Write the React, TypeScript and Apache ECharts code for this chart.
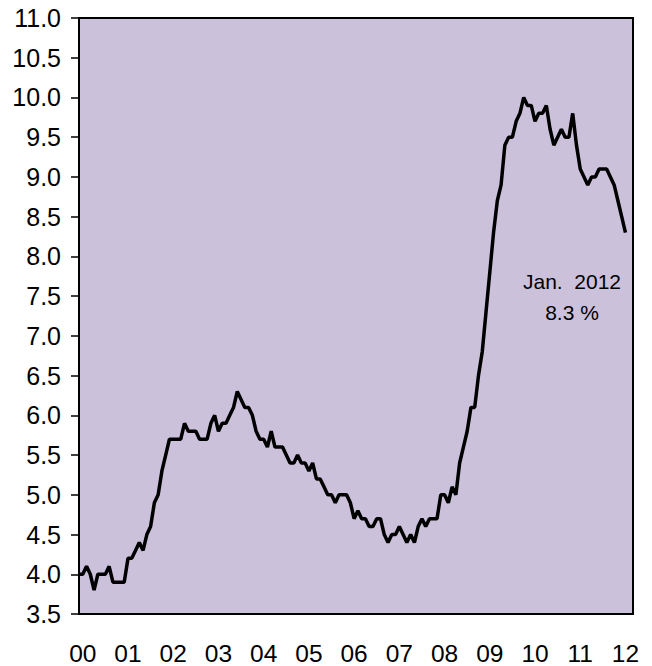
import React, { useEffect, useRef } from "react";
import * as echarts from "echarts";

// Monthly unemployment rate (%), Dec 1999 .. Jan 2012
const dec1999 = [4.0];
const y2000 = [4.0, 4.1, 4.0, 3.8, 4.0, 4.0, 4.0, 4.1, 3.9, 3.9, 3.9, 3.9];
const y2001 = [4.2, 4.2, 4.3, 4.4, 4.3, 4.5, 4.6, 4.9, 5.0, 5.3, 5.5, 5.7];
const y2002 = [5.7, 5.7, 5.7, 5.9, 5.8, 5.8, 5.8, 5.7, 5.7, 5.7, 5.9, 6.0];
const y2003 = [5.8, 5.9, 5.9, 6.0, 6.1, 6.3, 6.2, 6.1, 6.1, 6.0, 5.8, 5.7];
const y2004 = [5.7, 5.6, 5.8, 5.6, 5.6, 5.6, 5.5, 5.4, 5.4, 5.5, 5.4, 5.4];
const y2005 = [5.3, 5.4, 5.2, 5.2, 5.1, 5.0, 5.0, 4.9, 5.0, 5.0, 5.0, 4.9];
const y2006 = [4.7, 4.8, 4.7, 4.7, 4.6, 4.6, 4.7, 4.7, 4.5, 4.4, 4.5, 4.5];
const y2007 = [4.6, 4.5, 4.4, 4.5, 4.4, 4.6, 4.7, 4.6, 4.7, 4.7, 4.7, 5.0];
const y2008 = [5.0, 4.9, 5.1, 5.0, 5.4, 5.6, 5.8, 6.1, 6.1, 6.5, 6.8, 7.3];
const y2009 = [7.8, 8.3, 8.7, 8.9, 9.4, 9.5, 9.5, 9.7, 9.8, 10.0, 9.9, 9.9];
const y2010 = [9.7, 9.8, 9.8, 9.9, 9.6, 9.4, 9.5, 9.6, 9.5, 9.5, 9.8, 9.4];
const y2011 = [9.1, 9.0, 8.9, 9.0, 9.0, 9.1, 9.1, 9.1, 9.0, 8.9, 8.7, 8.5];
const y2012 = [8.3];

const rates = [
  ...dec1999, ...y2000, ...y2001, ...y2002, ...y2003, ...y2004, ...y2005,
  ...y2006, ...y2007, ...y2008, ...y2009, ...y2010, ...y2011, ...y2012,
];

const annotationLines = ["Jan.\u00a0\u00a02012", "8.3 %"];

const yMin = 3.5;
const yMax = 11.0;
const yStep = 0.5;

// month categories starting Dec 1999, with one extra trailing month
const startYear = 1999;
const startMonth = 11; // December (0-based)
const categoryCount = rates.length + 2;
const categories: string[] = [];
for (let i = 0; i < categoryCount; i++) {
  const t = startMonth + i;
  const yr = startYear + Math.floor(t / 12);
  const mo = t % 12;
  categories.push(`${yr}-${String(mo + 1).padStart(2, "0")}`);
}

const FONT = "'Liberation Sans', Arial, Helvetica, sans-serif";

export default function App() {
  const ref = useRef<HTMLDivElement>(null);
  useEffect(() => {
    if (!ref.current) return;
    const chart = echarts.init(ref.current, null, { renderer: "svg" });
    chart.setOption({
      animation: false,
      backgroundColor: "#ffffff",
      textStyle: { fontFamily: FONT },
      grid: {
        left: 79,
        right: 19,
        top: 18,
        bottom: 51,
        show: true,
        backgroundColor: "#CCC1DA",
        borderColor: "#000000",
        borderWidth: 2,
      },
      xAxis: {
        type: "category",
        data: categories,
        boundaryGap: false,
        axisLine: { show: true, lineStyle: { color: "#000", width: 2 } },
        axisTick: { show: false },
        splitLine: { show: false },
        axisLabel: {
          interval: (_i: number, v: string) => v.endsWith("-01"),
          formatter: (v: string) => v.slice(2, 4),
          fontSize: 24.5,
          color: "#000",
          fontFamily: FONT,
          margin: 27,
        },
      },
      yAxis: {
        type: "value",
        min: yMin,
        max: yMax,
        interval: yStep,
        axisLine: { show: true, lineStyle: { color: "#000", width: 2 } },
        axisTick: { show: true, length: 8, lineStyle: { color: "#000", width: 1.5 } },
        splitLine: { show: false },
        axisLabel: {
          formatter: (v: number) => v.toFixed(1),
          fontSize: 25,
          color: "#000",
          fontFamily: FONT,
          margin: 18,
        },
      },
      series: [
        {
          type: "line",
          data: rates,
          showSymbol: false,
          symbol: "none",
          lineStyle: { color: "#000", width: 3.5 },
          z: 5,
        },
      ],
      graphic: [
        {
          type: "text",
          x: 572,
          y: 266,
          z: 10,
          style: {
            text: annotationLines.join("\n"),
            fontSize: 21,
            lineHeight: 31,
            fill: "#000",
            fontFamily: FONT,
            align: "center",
            verticalAlign: "top",
          },
        },
      ],
    });
    return () => chart.dispose();
  }, []);
  return (
    <div
      ref={ref}
      style={{ position: "fixed", left: 0, top: 0, width: 652, height: 666 }}
    />
  );
}
